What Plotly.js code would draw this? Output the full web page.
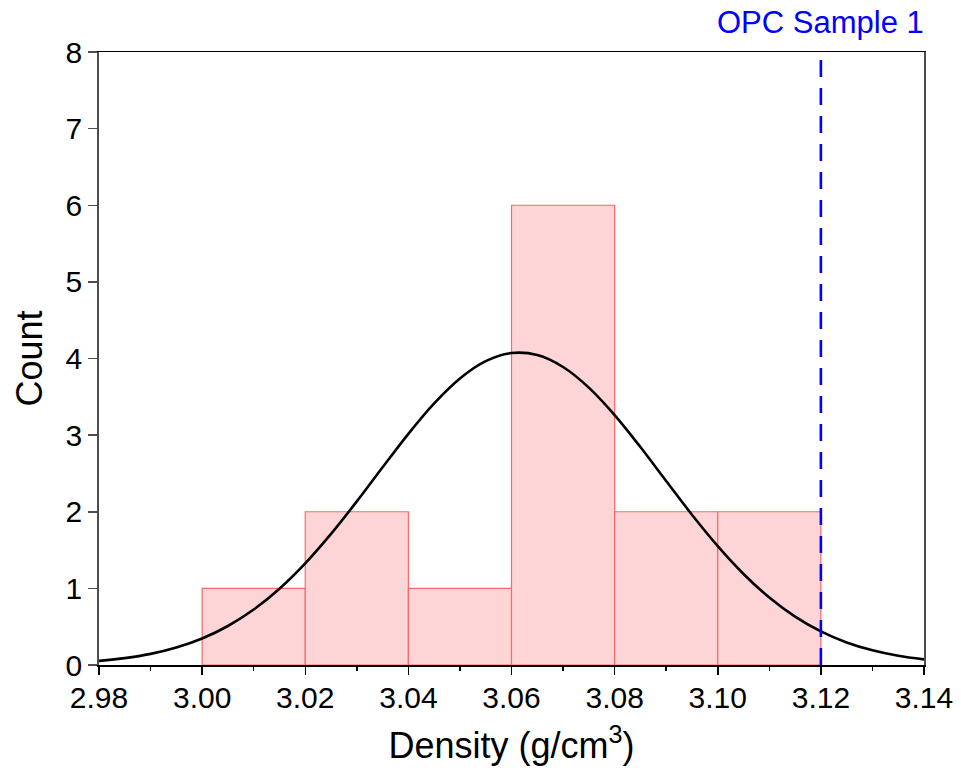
<!DOCTYPE html>
<html>
<head>
<meta charset="utf-8">
<script src="https://cdn.plot.ly/plotly-3.0.1.min.js"></script>
<style>
  html, body { margin: 0; padding: 0; background: #ffffff; }
  #chart { width: 961px; height: 773px; }
</style>
</head>
<body>
<div id="chart"></div>
<script>
// Histogram bins of measured density (bin centres, width 0.02 g/cm3) and their counts
const binCenters = [3.01, 3.03, 3.05, 3.07, 3.09, 3.11];
const binCounts  = [1, 2, 1, 6, 2, 2];
const binWidth = 0.02;

// Fitted normal curve, sampled along the density axis
const fitX = [2.980, 2.985, 2.990, 2.995, 3.000, 3.005, 3.010, 3.015, 3.020, 3.025,
              3.030, 3.035, 3.040, 3.045, 3.050, 3.055, 3.060, 3.065, 3.070, 3.075,
              3.080, 3.085, 3.090, 3.095, 3.100, 3.105, 3.110, 3.115, 3.120, 3.125,
              3.130, 3.135, 3.140];
const fitY = [0.054, 0.090, 0.145, 0.228, 0.346, 0.509, 0.724, 0.996, 1.327, 1.711,
              2.135, 2.580, 3.017, 3.414, 3.740, 3.966, 4.071, 4.045, 3.889, 3.620,
              3.262, 2.845, 2.401, 1.961, 1.551, 1.188, 0.880, 0.631, 0.438, 0.294,
              0.191, 0.120, 0.073];

// Reference sample
const opcDensity = 3.12;
const opcLabel = 'OPC Sample 1';

// Axis ticks
const xTickVals = [2.98, 3.00, 3.02, 3.04, 3.06, 3.08, 3.10, 3.12, 3.14];
const xTickText = ['2.98', '3.00', '3.02', '3.04', '3.06', '3.08', '3.10', '3.12', '3.14'];
const yTickVals = [0, 1, 2, 3, 4, 5, 6, 7, 8];

const FONT = 'Liberation Sans, Arial, sans-serif';

const traces = [
  {
    type: 'bar',
    x: binCenters,
    y: binCounts,
    width: binCenters.map(() => binWidth),
    marker: { color: '#fdd5d6', line: { color: '#f86a6a', width: 1.2 } },
    hoverinfo: 'x+y',
    showlegend: false
  },
  {
    type: 'scatter',
    mode: 'lines',
    x: fitX,
    y: fitY,
    line: { color: '#000000', width: 2.6, shape: 'spline', smoothing: 1 },
    showlegend: false
  }
];

const layout = {
  width: 961,
  height: 773,
  margin: { l: 99, r: 37, t: 52, b: 108, pad: 0 },
  paper_bgcolor: '#ffffff',
  plot_bgcolor: '#ffffff',
  bargap: 0,
  font: { family: FONT, color: '#000000' },
  xaxis: {
    range: [2.98, 3.14],
    tickmode: 'array',
    tickvals: xTickVals,
    ticktext: xTickText,
    ticks: 'outside',
    ticklen: 8,
    tickwidth: 1.5,
    tickcolor: '#000000',
    ticklabelstandoff: -3,
    minor: { dtick: 0.01, tick0: 2.98, ticks: 'outside', ticklen: 4, tickwidth: 1.5, tickcolor: '#000000', showgrid: false },
    showline: true,
    linecolor: '#000000',
    linewidth: 1.5,
    mirror: true,
    showgrid: false,
    zeroline: false,
    tickfont: { family: FONT, size: 30, color: '#000000' },
    title: { text: 'Density (g/cm<sup>3</sup>)', font: { family: FONT, size: 36, color: '#000000' }, standoff: 20 }
  },
  yaxis: {
    range: [0, 8],
    tickmode: 'array',
    tickvals: yTickVals,
    ticks: 'outside',
    ticklen: 9,
    tickwidth: 1.5,
    tickcolor: '#4d4d4d',
    showline: true,
    linecolor: '#4d4d4d',
    linewidth: 1.8,
    mirror: true,
    showgrid: false,
    zeroline: false,
    tickfont: { family: FONT, size: 30, color: '#000000' },
    title: { text: 'Count', font: { family: FONT, size: 36, color: '#000000' }, standoff: 12 }
  },
  shapes: [
    {
      type: 'line',
      xref: 'x', yref: 'paper',
      x0: opcDensity, x1: opcDensity, y0: 0, y1: 1,
      line: { color: '#0000ff', width: 2.6, dash: '17px,11px' }
    }
  ],
  annotations: [
    {
      xref: 'x', yref: 'paper',
      x: opcDensity, y: 1,
      xanchor: 'center', yanchor: 'bottom',
      yshift: 10,
      showarrow: false,
      text: opcLabel,
      font: { family: FONT, size: 31, color: '#0000ff' }
    }
  ]
};

Plotly.newPlot('chart', traces, layout, { displayModeBar: false, staticPlot: true });
</script>
</body>
</html>
